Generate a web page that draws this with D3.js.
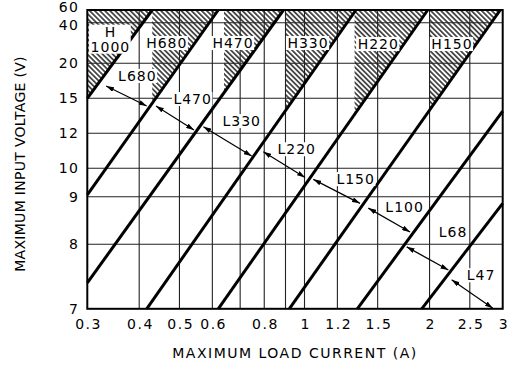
<!DOCTYPE html>
<html lang="en">
<head>
<meta charset="UTF-8">
<title>Inductor value selection</title>
<script src="https://d3js.org/d3.v7.min.js"></script>
<style>
  body { margin: 0; background: #fff; }
  text { font-family: 'DejaVu Sans', sans-serif; fill: #000; }
</style>
</head>
<body>
<script>
  const width = 510
  const height = 365
  const margin = { top: 10, right: 7.3, bottom: 56.2, left: 87.3 }
  const iw = width - margin.left - margin.right
  const ih = height - margin.top - margin.bottom

  // ---- data ----
  const currentTicks = [0.3, 0.4, 0.5, 0.6, 0.8, 1, 1.2, 1.5, 2, 2.5, 3]
  const currentGrid = [0.4, 0.5, 0.6, 0.7, 0.8, 0.9, 1, 1.2, 1.5, 2, 2.5]
  const voltageTicks = [7, 8, 9, 10, 12, 15, 20, 40, 60]

  // thick boundary lines, [current, voltage] at each end
  const boundaryStart = [[0.3, 15], [0.3, 9.06], [0.3, 7.4], [0.417, 7], [0.62, 7], [0.919, 7], [1.34, 7], [1.915, 7]]
  const boundaryEnd = [[0.43, 60], [0.62, 60], [0.89, 60], [1.33, 60], [1.98, 60], [2.96, 60], [3, 13.9], [3, 8.86]]

  // hatched high-voltage zones: left edge current, bounded by boundary line of same index
  const hZones = ['H\n1000', 'H680', 'H470', 'H330', 'H220', 'H150']
  const hLeft = [0.3, 0.43, 0.64, 0.9, 1.32, 2.0]
  const hLabelI = [0.341, 0.466, 0.673, 1.02, 1.505, 2.265]
  const hLabelV = [31.9, 30, 30, 30, 29.5, 29.5]

  // inductor zones along the arrow chain
  const lZones = ['L680', 'L470', 'L330', 'L220', 'L150', 'L100', 'L68', 'L47']
  const lLabelI = [0.396, 0.538, 0.706, 0.958, 1.328, 1.742, 2.278, 2.66]
  const lLabelV = [18.2, 14.94, 13.05, 11.09, 9.62, 8.78, 8.25, 7.52]
  const arrowFrom = [[0.333, 16.76], [0.439, 14.34], [0.571, 12.57], [0.796, 10.95], [1.05, 9.61], [1.424, 8.76], [1.762, 7.96], [2.26, 7.45]]
  const arrowTo = [[0.417, 14.34], [0.542, 12.28], [0.746, 10.7], [1.003, 9.68], [1.36, 8.86], [1.795, 8.26], [2.22, 7.6], [2.84, 7.01]]

  // ---- scales ----
  const x = d3.scaleLog().domain([0.3, 3]).range([margin.left, margin.left + iw])
  // the voltage axis of the original is non-uniform: stops as fraction of plot height from top
  const voltageAxisStops = [1, 0.7841, 0.6248, 0.5298, 0.4127, 0.2955, 0.1784, 0.0425, 0]
  const y = d3.scaleLinear().domain(voltageTicks).range(voltageAxisStops.map(f => margin.top + f * ih))

  const svg = d3.select('body').append('svg')
    .attr('width', width)
    .attr('height', height)

  svg.append('rect').attr('width', width).attr('height', height).attr('fill', '#fff')

  const defs = svg.append('defs')
  defs.append('pattern')
    .attr('id', 'hatch')
    .attr('patternUnits', 'userSpaceOnUse')
    .attr('width', 3.6).attr('height', 3.6)
    .attr('patternTransform', 'rotate(-45)')
    .append('line')
    .attr('x1', 1.8).attr('y1', 0).attr('x2', 1.8).attr('y2', 3.6)
    .attr('stroke', '#000').attr('stroke-width', 1.3)

  defs.append('marker')
    .attr('id', 'head')
    .attr('viewBox', '0 0 10 10')
    .attr('refX', 10).attr('refY', 5)
    .attr('markerWidth', 8).attr('markerHeight', 5)
    .attr('markerUnits', 'userSpaceOnUse')
    .attr('preserveAspectRatio', 'none')
    .attr('orient', 'auto-start-reverse')
    .append('path').attr('d', 'M0,0L10,5L0,10Z').attr('fill', '#000')

  function pointOnLine(k, I) {
    const a = boundaryStart[k], b = boundaryEnd[k]
    const x0 = x(a[0]), y0 = y(a[1]), x1 = x(b[0]), y1 = y(b[1])
    const px = x(I)
    return [px, y0 + (y1 - y0) * (px - x0) / (x1 - x0)]
  }

  // hatched zones
  svg.append('g').selectAll('path')
    .data(hZones)
    .enter()
    .append('path')
    .attr('d', (d, i) => {
      const top = y(60)
      const bottom = pointOnLine(i, hLeft[i])
      return `M${x(hLeft[i])},${top}L${x(boundaryEnd[i][0])},${top}L${bottom[0]},${bottom[1]}Z`
    })
    .attr('fill', 'url(#hatch)')

  // grid
  const grid = svg.append('g').attr('stroke', '#222').attr('stroke-width', 1.1)
  grid.selectAll('.vg')
    .data(currentGrid)
    .enter().append('line')
    .attr('x1', d => x(d)).attr('x2', d => x(d))
    .attr('y1', y(60)).attr('y2', y(7))
  grid.selectAll('.hg')
    .data(voltageTicks.slice(1, -1))
    .enter().append('line')
    .attr('x1', x(0.3)).attr('x2', x(3))
    .attr('y1', d => y(d)).attr('y2', d => y(d))

  // boundary lines
  svg.append('g').selectAll('line')
    .data(boundaryStart)
    .enter().append('line')
    .attr('x1', d => x(d[0])).attr('y1', d => y(d[1]))
    .attr('x2', (d, i) => x(boundaryEnd[i][0])).attr('y2', (d, i) => y(boundaryEnd[i][1]))
    .attr('stroke', '#000').attr('stroke-width', 3)

  // arrows
  svg.append('g').selectAll('line')
    .data(arrowFrom)
    .enter().append('line')
    .attr('x1', d => x(d[0])).attr('y1', d => y(d[1]))
    .attr('x2', (d, i) => x(arrowTo[i][0])).attr('y2', (d, i) => y(arrowTo[i][1]))
    .attr('stroke', '#000').attr('stroke-width', 1.2)
    .attr('marker-start', 'url(#head)')
    .attr('marker-end', 'url(#head)')

  // frame
  svg.append('rect')
    .attr('x', x(0.3)).attr('y', y(60))
    .attr('width', x(3) - x(0.3)).attr('height', y(7) - y(60))
    .attr('fill', 'none').attr('stroke', '#000').attr('stroke-width', 2)

  // zone labels with white backing
  function addLabel(g, txt, px, py) {
    const lines = txt.split('\n')
    const t = g.append('text')
      .attr('font-size', 14)
      .attr('letter-spacing', 1)
      .attr('text-anchor', 'middle')
    lines.forEach((s, j) => {
      t.append('tspan')
        .attr('x', px)
        .attr('y', py + (j - (lines.length - 1) / 2) * 15)
        .attr('dy', '0.36em')
        .text(s)
    })
    const bb = t.node().getBBox()
    g.insert('rect', 'text')
      .attr('x', bb.x - 1.5).attr('y', bb.y + 1)
      .attr('width', bb.width + 2).attr('height', bb.height - 2)
      .attr('fill', '#fff')
  }
  hZones.forEach((s, i) => addLabel(svg.append('g'), s, x(hLabelI[i]), y(hLabelV[i])))
  lZones.forEach((s, i) => addLabel(svg.append('g'), s, x(lLabelI[i]), y(lLabelV[i])))

  // axes (labels only)
  const xAxis = svg.append('g')
    .attr('transform', `translate(0,${y(7)})`)
    .call(d3.axisBottom(x).tickValues(currentTicks).tickSize(0).tickPadding(10.4)
      .tickFormat(d3.format('')))
  xAxis.select('.domain').remove()
  xAxis.selectAll('text').attr('font-size', 14).attr('letter-spacing', 1.5)
    .attr('font-family', 'DejaVu Sans').attr('dx', 0.75)

  const yNudge = { 60: -3.3, 40: 2.3 }
  const yAxis = svg.append('g')
    .attr('transform', `translate(${x(0.3)},0)`)
    .call(d3.axisLeft(y).tickValues(voltageTicks).tickSize(0).tickPadding(9.3)
      .tickFormat(d3.format('')))
  yAxis.select('.domain').remove()
  yAxis.selectAll('text').attr('font-size', 14).attr('letter-spacing', 1.5)
    .attr('font-family', 'DejaVu Sans')
    .attr('transform', d => `translate(1.5,${yNudge[d] || 0})`)

  svg.append('text')
    .attr('x', (x(0.3) + x(3)) / 2).attr('y', 353)
    .attr('dy', '0.36em')
    .attr('text-anchor', 'middle')
    .attr('font-size', 14)
    .attr('letter-spacing', 1.5)
    .text('MAXIMUM LOAD CURRENT (A)')

  svg.append('text')
    .attr('transform', 'translate(20,164) rotate(-90)')
    .attr('dy', '0.36em')
    .attr('text-anchor', 'middle')
    .attr('font-size', 14)
    .attr('letter-spacing', 0.3)
    .text('MAXIMUM INPUT VOLTAGE (V)')
</script>
</body>
</html>
